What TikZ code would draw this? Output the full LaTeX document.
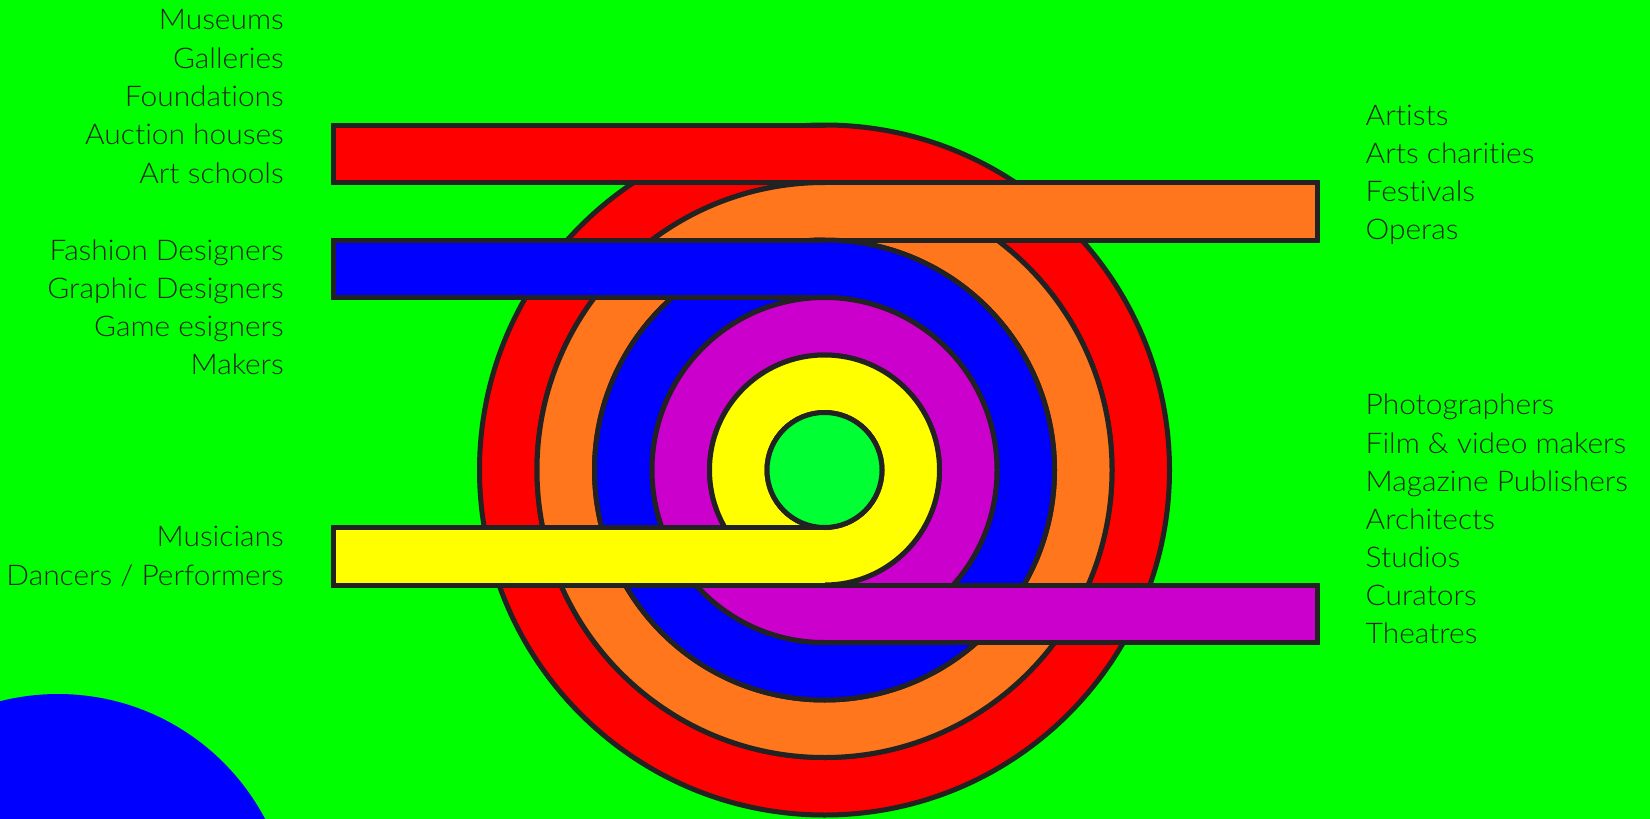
\documentclass[tikz,border=0pt]{standalone}
\usepackage{fontspec}
\setmainfont{Lato Light}[FakeStretch=1.05, RawFeature={-liga;-dlig;-clig}]
\definecolor{bg}{HTML}{00FF00}
\definecolor{ink}{HTML}{222222}
\definecolor{cred}{HTML}{FF0000}
\definecolor{corange}{HTML}{FF761C}
\definecolor{cblue}{HTML}{0000FF}
\definecolor{cmag}{HTML}{CC00CC}
\definecolor{cyel}{HTML}{FFFF00}
\definecolor{cgreen}{HTML}{00FF33}
\begin{document}
\begin{tikzpicture}[x=1pt,y=-1pt,
  edge/.style={draw=ink, line width=5pt, line join=miter},
  lbl/.style={inner sep=0pt, text=ink, font=\fontsize{28.5pt}{38pt}\selectfont},
  lft/.style={lbl, anchor=base east},
  rgt/.style={lbl, anchor=base west}]
\clip (0,0) rectangle (1650,819);
\useasboundingbox (0,0) rectangle (1650,819);
\fill[bg] (0,0) rectangle (1650,819);
\fill[cblue] (58,928) circle (234pt);
\coordinate (c) at (824.5,470);
% red band
\fill[cred, even odd rule] (c) circle (345pt) (c) circle (287.5pt);
\draw[edge] (c) circle (345pt) (c) circle (287.5pt);
\fill[cred] (333.5,125) rectangle (824.5,182.5);
\draw[edge] (824.5,125) -- (333.5,125) -- (333.5,182.5) -- (824.5,182.5);
% orange band
\fill[corange, even odd rule] (c) circle (287.5pt) (c) circle (230pt);
\draw[edge] (c) circle (287.5pt) (c) circle (230pt);
\fill[corange] (824.5,182.5) rectangle (1317.5,240);
\draw[edge] (824.5,182.5) -- (1317.5,182.5) -- (1317.5,240) -- (824.5,240);
% blue band
\fill[cblue, even odd rule] (c) circle (230pt) (c) circle (172.5pt);
\draw[edge] (c) circle (230pt) (c) circle (172.5pt);
\fill[cblue] (333.5,240) rectangle (824.5,297.5);
\draw[edge] (824.5,240) -- (333.5,240) -- (333.5,297.5) -- (824.5,297.5);
% magenta band
\fill[cmag, even odd rule] (c) circle (172.5pt) (c) circle (115pt);
\draw[edge] (c) circle (172.5pt) (c) circle (115pt);
\fill[cmag] (824.5,585) rectangle (1317.5,642.5);
\draw[edge] (824.5,585) -- (1317.5,585) -- (1317.5,642.5) -- (824.5,642.5);
% yellow band
\fill[cyel, even odd rule] (c) circle (115pt) (c) circle (57.5pt);
\draw[edge] (c) circle (115pt) (c) circle (57.5pt);
\fill[cyel] (333.5,527.5) rectangle (824.5,585);
\draw[edge] (824.5,527.5) -- (333.5,527.5) -- (333.5,585) -- (824.5,585);
% green centre
\filldraw[fill=cgreen, edge] (c) circle (57.5pt);
% left labels
\node[lft] (a1) at (284,30) {Museums};
\node[lft] (a2) at (284,68.3) {Galleries};
\node[lft] (a3) at (284,106.6) {Foundations};
\node[lft] (a4) at (284,144.9) {Auction houses};
\node[lft] (a5) at (284,183.2) {Art schools};
\node[lft] (b1) at (284,260) {Fashion Designers};
\node[lft] (b2) at (284,298.2) {Graphic Designers};
\node[lft] (b3) at (284,336.4) {Game esigners};
\node[lft] (b4) at (284,374.6) {Makers};
\node[lft] (d1) at (284,546.7) {Musicians};
\node[lft] (d2) at (284,585) {Dancers / Performers};
% right labels
\node[rgt] (e1) at (1365.5,125.2) {Artists};
\node[rgt] (e2) at (1365.5,163.2) {Arts charities};
\node[rgt] (e3) at (1365.5,201.2) {Festivals};
\node[rgt] (e4) at (1365.5,239.2) {Operas};
\node[rgt] (f1) at (1365.5,414.9) {Photographers};
\node[rgt] (f2) at (1365.5,453.0) {Film \& video makers};
\node[rgt] (f3) at (1365.5,491.1) {Magazine Publishers};
\node[rgt] (f4) at (1365.5,529.2) {Architects};
\node[rgt] (f5) at (1365.5,567.3) {Studios};
\node[rgt] (f6) at (1365.5,605.4) {Curators};
\node[rgt] (f7) at (1365.5,643.5) {Theatres};
\end{tikzpicture}
\end{document}
